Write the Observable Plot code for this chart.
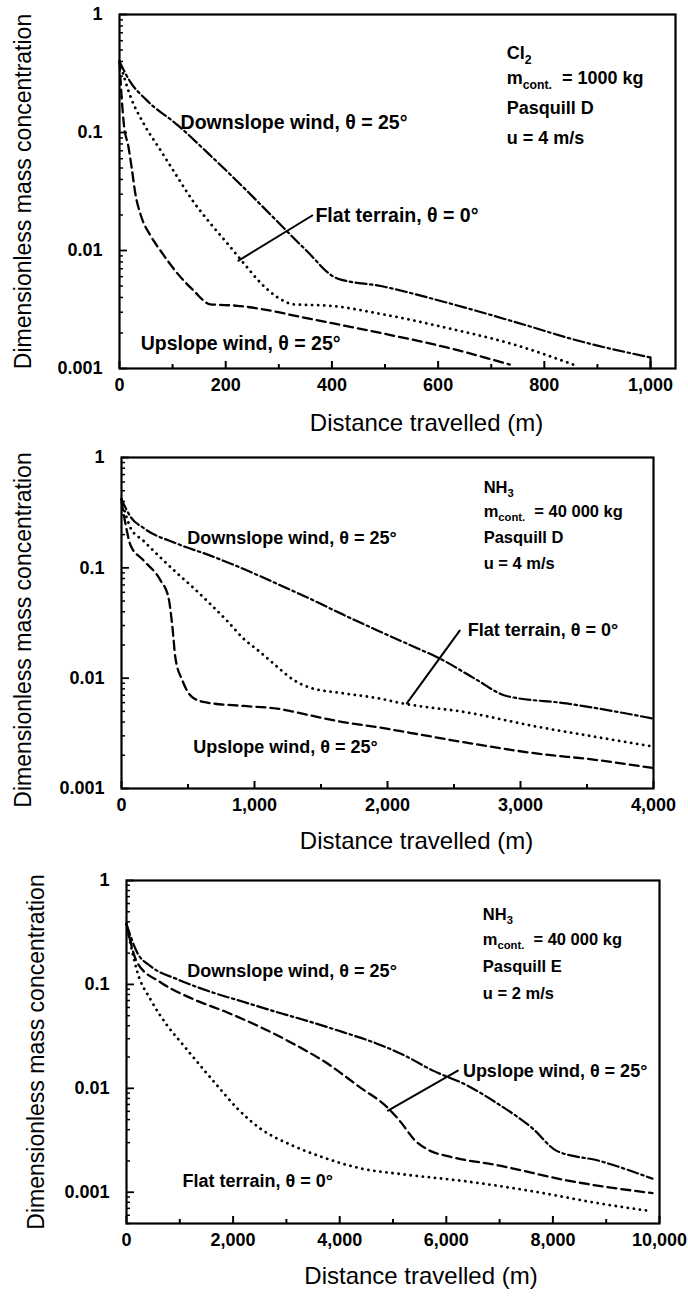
<!DOCTYPE html>
<html><head><meta charset="utf-8">
<script src="https://cdn.jsdelivr.net/npm/d3@7"></script>
<script src="https://cdn.jsdelivr.net/npm/@observablehq/plot@0.6"></script>
<style>
body{margin:0;background:#fff;}
#chart{width:688px;}
#chart svg{display:block;}
</style></head><body><div id="chart"></div>
<script>
// ---------------- DATA ----------------
// Panel 1: Cl2, 1000 kg, Pasquill D, u = 4 m/s  [distance m, concentration]
const p1Down = [[0,0.40],[20,0.27],[50,0.19],[110,0.115],[170,0.0646],[230,0.0355],[290,0.019],[350,0.0102],[410,0.0058],[492,0.0050],[618,0.0036],[742,0.0025],[868,0.0017],[1000,0.00124],[1000,0.001]];
const p1Flat = [[0,0.40],[21,0.20],[45,0.12],[77,0.071],[109,0.042],[139,0.026],[171,0.017],[203,0.0115],[234,0.0078],[266,0.0053],[298,0.0040],[328,0.0035],[397,0.0034],[492,0.0029],[618,0.0022],[742,0.0016],[862,0.00105]];
const p1Up = [[0,0.40],[4,0.20],[8,0.12],[17,0.075],[23,0.05],[30,0.03],[40,0.02],[60,0.013],[77,0.010],[109,0.0064],[139,0.0046],[171,0.0035],[222,0.0034],[266,0.0032],[347,0.0027],[492,0.0020],[618,0.0015],[735,0.00108]];
const p1Leader = [[224,0.0082],[363,0.0198]];

// Panel 2: NH3, 40 000 kg, Pasquill D, u = 4 m/s
const p2Down = [[0,0.42],[68,0.29],[165,0.23],[420,0.165],[668,0.129],[915,0.098],[1170,0.0716],[1418,0.0524],[1665,0.0377],[1920,0.0272],[2168,0.020],[2420,0.0145],[2650,0.010],[2895,0.0069],[3345,0.0059],[4000,0.0043]];
const p2Flat = [[0,0.42],[68,0.23],[165,0.176],[293,0.124],[420,0.089],[540,0.066],[668,0.047],[795,0.033],[915,0.023],[1043,0.0172],[1170,0.0127],[1290,0.0097],[1418,0.0082],[1665,0.0073],[1920,0.0066],[2115,0.0059],[2595,0.0049],[3090,0.0037],[3593,0.0029],[4000,0.0024]];
const p2Up = [[0,0.40],[30,0.25],[68,0.16],[165,0.117],[293,0.077],[353,0.054],[383,0.029],[405,0.0154],[458,0.0095],[540,0.0066],[645,0.0060],[915,0.0056],[1170,0.0053],[1418,0.0046],[1665,0.0040],[1920,0.0036],[2168,0.0032],[2595,0.0026],[3090,0.0021],[3593,0.0018],[4000,0.00153]];
const p2Leader = [[2145,0.0059],[2543,0.027]];

// Panel 3: NH3, 40 000 kg, Pasquill E, u = 2 m/s
const p3Down = [[0,0.38],[206,0.20],[449,0.15],[955,0.112],[1573,0.085],[2190,0.068],[2828,0.054],[3446,0.0437],[4064,0.0347],[4700,0.0269],[5200,0.0209],[5749,0.0148],[6385,0.0107],[7004,0.0069],[7622,0.0041],[8071,0.0025],[8876,0.0020],[9869,0.00135]];
const p3Up = [[0,0.38],[206,0.16],[637,0.105],[1255,0.072],[1891,0.0537],[2509,0.0389],[3127,0.0269],[3764,0.0174],[4382,0.0102],[4888,0.0066],[5150,0.0047],[5400,0.0032],[5700,0.0025],[6067,0.0022],[7004,0.0018],[8258,0.0013],[9869,0.00098]];
const p3Flat = [[0,0.38],[206,0.13],[449,0.072],[768,0.040],[1067,0.026],[1386,0.0165],[1704,0.0106],[2079,0.0064],[2509,0.0041],[3127,0.0028],[3764,0.0021],[4382,0.0017],[5131,0.0015],[6385,0.00127],[7622,0.00102],[8876,0.00078],[9813,0.00066]];
const p3Leader = [[4906,0.0061],[6217,0.0148]];

// Curve labels [x, y, text]
const p1Labels = [[115,0.1216,"Downslope wind, θ = 25°"],[369,0.0198,"Flat terrain, θ = 0°"],[40,0.00163,"Upslope wind, θ = 25°"]];
const p2Labels = [[495,0.184,"Downslope wind, θ = 25°"],[2603,0.027,"Flat terrain, θ = 0°"],[540,0.00235,"Upslope wind, θ = 25°"]];
const p3Labels = [[1142,0.134,"Downslope wind, θ = 25°"],[6311,0.0147,"Upslope wind, θ = 25°"],[1049,0.00127,"Flat terrain, θ = 0°"]];

// Condition blocks [x, y, text]
const p1Info = [[729,0.467,"Cl_{2}"],[729,0.287,"m_{cont.}\u00a0 = 1000 kg"],[729,0.160,"Pasquill D"],[729,0.0889,"u = 4 m/s"]];
const p2Info = [[2723,0.535,"NH_{3}"],[2723,0.324,"m_{cont.}\u00a0 = 40 000 kg"],[2723,0.188,"Pasquill D"],[2723,0.109,"u = 4 m/s"]];
const p3Info = [[6685,0.472,"NH_{3}"],[6685,0.272,"m_{cont.}\u00a0 = 40 000 kg"],[6685,0.1466,"Pasquill E"],[6685,0.0807,"u = 2 m/s"]];

// Ticks
const yMajor = [1,0.1,0.01,0.001];
const yMinorDecades = [0.1,0.01,0.001];
const yMinorMult = [2,3,4,5,6,7,8,9];
const p1XMajor = [0,200,400,600,800,1000], p1XMinor = [100,300,500,700,900];
const p2XMajor = [0,1000,2000,3000,4000], p2XMinor = [500,1500,2500,3500];
const p3XMajor = [0,2000,4000,6000,8000,10000], p3XMinor = [1000,3000,5000,7000,9000];

const yTitle = "Dimensionless mass concentration";
const xTitle = "Distance travelled (m)";

// ---------------- DRAWING ----------------
const FONT = '"Liberation Sans", Arial, Helvetica, sans-serif';
const NS = "http://www.w3.org/2000/svg";
const styles = {
  down: {strokeDasharray: "11,3.5,2.5,3.5", strokeWidth: 2.2},
  flat: {strokeDasharray: "0.1,6", strokeLinecap: "round", strokeWidth: 2.8},
  up:   {strokeDasharray: "9,5", strokeWidth: 2.3}
};

function minorTicks(low) {
  const out = [];
  for (const d of yMinorDecades) for (const m of yMinorMult) out.push(m * d);
  if (low < 0.001) for (const m of [5,6,7,8,9]) out.push(m * 0.0001);
  return out.filter(v => v >= low && v < 1);
}

function applySub(svg, fs) {
  svg.querySelectorAll("text").forEach(t => {
    const m = t.textContent.match(/^(.*?)_\{(.*?)\}(.*)$/);
    if (!m) return;
    t.textContent = "";
    const a = document.createElementNS(NS, "tspan"); a.textContent = m[1];
    const b = document.createElementNS(NS, "tspan"); b.textContent = m[2];
    b.setAttribute("font-size", fs * 0.68); b.setAttribute("dy", fs * 0.28);
    t.append(a, b);
    if (m[3]) {
      const c = document.createElementNS(NS, "tspan"); c.textContent = m[3];
      c.setAttribute("dy", -fs * 0.28);
      t.append(c);
    }
  });
}

// smooth curve, with a straight closing segment when the last points share the same x
function curveMarks(data, st) {
  const base = {x: d => d[0], y: d => d[1], stroke: "#000", ...st};
  const n = data.length;
  if (n > 1 && data[n - 1][0] === data[n - 2][0]) {
    return [Plot.line(data.slice(0, n - 1), {...base, curve: "monotone-x"}),
            Plot.line(data.slice(n - 2), {...base, strokeDasharray: null})];
  }
  return [Plot.line(data, {...base, curve: "monotone-x"})];
}

function panel(c) {
  const innerW = 688 - c.ml - c.mr;
  const innerH = c.height - c.mt - c.mb;
  const svg = Plot.plot({
    width: 688, height: c.height,
    marginLeft: c.ml, marginRight: c.mr, marginTop: c.mt, marginBottom: c.mb,
    style: {fontFamily: FONT, color: "#000", background: "#fff"},
    x: {type: "linear", domain: c.xDomain},
    y: {type: "log", domain: c.yDomain},
    marks: [
      Plot.tickY(yMajor.filter(v => v >= c.yDomain[0]), {y: d => d, insetRight: innerW - 8, strokeWidth: 1.8}),
      Plot.tickY(minorTicks(c.yDomain[0]), {y: d => d, insetRight: innerW - 4, strokeWidth: 1.5}),
      Plot.tickX(c.xMajor, {x: d => d, insetTop: innerH - 7, strokeWidth: 2}),
      Plot.tickX(c.xMinor, {x: d => d, insetTop: innerH - 4, strokeWidth: 2}),
      Plot.axisY({ticks: yMajor, tickFormat: d => String(d), tickSize: 0, tickPadding: 17, fontSize: 18, fontWeight: "bold", label: null}),
      Plot.axisX({ticks: c.xMajor, tickFormat: d3.format(","), tickSize: 0, tickPadding: 10, fontSize: 18, fontWeight: "bold", label: null}),
      ...curveMarks(c.down, styles.down),
      ...curveMarks(c.flat, styles.flat),
      ...curveMarks(c.up, styles.up),
      Plot.line(c.leader, {x: d => d[0], y: d => d[1], stroke: "#000", strokeWidth: 2}),
      Plot.text(c.labels, {x: d => d[0], y: d => d[1], text: d => d[2], textAnchor: "start", fontSize: c.labelFs, fontWeight: "bold", fill: "#000"}),
      Plot.text(c.info, {x: d => d[0], y: d => d[1], text: d => d[2], textAnchor: "start", fontSize: c.infoFs, fontWeight: "bold", fill: "#000"}),
      Plot.text([yTitle], {frameAnchor: "left", textAnchor: "middle", rotate: -90, dx: c.ytDx, dy: c.ytDy, fontSize: 23, fill: "#000"}),
      Plot.text([xTitle], {frameAnchor: "bottom", textAnchor: "middle", dx: c.xtDx, dy: c.xtDy, fontSize: 24, fill: "#000"}),
      Plot.frame({stroke: "#000", strokeWidth: 2.2})
    ]
  });
  applySub(svg, c.infoFs);
  return svg;
}

const root = document.getElementById("chart");
root.append(panel({height: 445, ml: 119, mr: 13, mt: 14, mb: 77, xDomain: [0, 1047], yDomain: [0.001, 1],
  xMajor: p1XMajor, xMinor: p1XMinor, down: p1Down, flat: p1Flat, up: p1Up, leader: p1Leader,
  labels: p1Labels, info: p1Info, labelFs: 19.5, infoFs: 18, ytDx: -96, ytDy: 0, xtDx: 29, xtDy: 62}));
root.append(panel({height: 420, ml: 121, mr: 35, mt: 12, mb: 77, xDomain: [0, 4000], yDomain: [0.001, 1],
  xMajor: p2XMajor, xMinor: p2XMinor, down: p2Down, flat: p2Flat, up: p2Up, leader: p2Leader,
  labels: p2Labels, info: p2Info, labelFs: 18, infoFs: 16.5, ytDx: -98, ytDy: 7, xtDx: 29, xtDy: 60}));
root.append(panel({height: 433, ml: 126, mr: 29, mt: 15, mb: 75, xDomain: [0, 10000], yDomain: [0.0005, 1],
  xMajor: p3XMajor, xMinor: p3XMinor, down: p3Down, flat: p3Flat, up: p3Up, leader: p3Leader,
  labels: p3Labels, info: p3Info, labelFs: 18, infoFs: 16.5, ytDx: -90, ytDy: 0, xtDx: 28, xtDy: 60}));
</script>
</body></html>
